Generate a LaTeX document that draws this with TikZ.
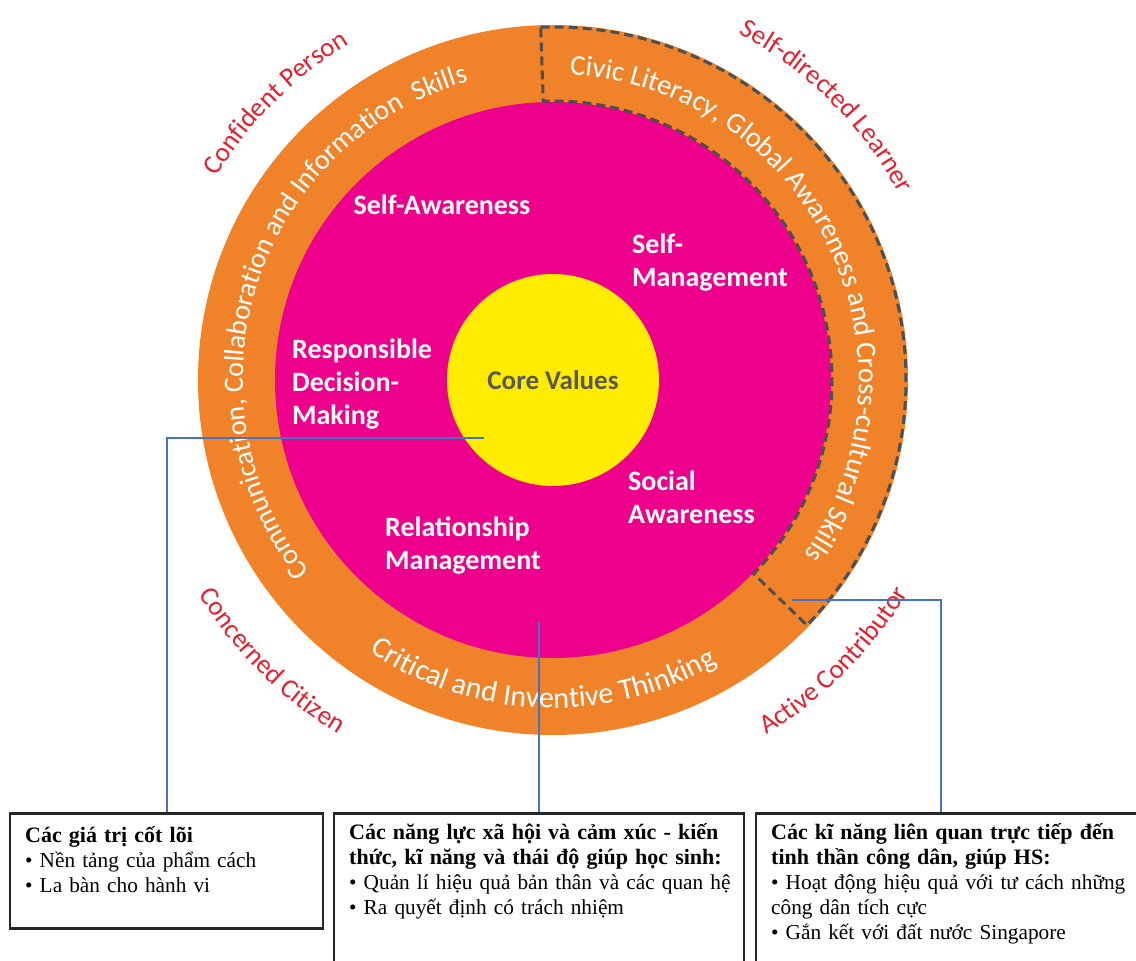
\documentclass[tikz,border=0pt]{standalone}
\usepackage{fontspec}
\setmainfont{Liberation Serif}
\newfontfamily\calib{Carlito}
\usetikzlibrary{calc,decorations.text}

\definecolor{ringorange}{HTML}{F0832A}
\definecolor{secmagenta}{HTML}{EC008C}
\definecolor{coreyellow}{HTML}{FFEC00}
\definecolor{outcomered}{HTML}{E5202E}
\definecolor{leadblue}{HTML}{4472C4}
\definecolor{dashgray}{HTML}{4F4F4F}
\definecolor{coregray}{HTML}{595959}

\newcommand\ringtext{\calib\fontsize{28}{30}\selectfont\color{white}}
\newcommand\outcome{\calib\fontsize{27}{30}\selectfont\color{outcomered}}
\newcommand\boxtitle[1]{{\bfseries\fontsize{22}{25}\selectfont #1}}

\begin{document}
\begin{tikzpicture}[x=1pt, y=1pt,
          disc/.style = {circle, inner sep=0pt},
          sec/.style = {text=white, font=\calib\bfseries\fontsize{28}{33}\selectfont, align=left, inner sep=0pt},
          lead/.style = {leadblue, line width=2pt},
          box/.style = {draw=black!85, line width=2.5pt, fill=white, inner sep=0pt, anchor=north west},
          boxtext/.style = {anchor=base west, inner sep=0pt, align=left, text width=430pt, font=\fontsize{21.3}{25}\selectfont}]
        \clip (-553,-581) rectangle (583,380);
        \node[disc, fill=ringorange, minimum size=710pt] (outerring) at (0,0) {};
        \node[disc, fill=secmagenta, minimum size=556pt] (secring) at (0,0) {};
        \node[disc, fill=coreyellow, minimum size=212pt, text=coregray,
              font=\calib\bfseries\fontsize{27}{30}\selectfont] (core) at (0,0) {Core Values};
        % 21st century competencies
        \draw[dashgray, line width=3pt, dash pattern=on 9pt off 5pt]
              (92:353) arc[start angle=92, end angle=-44, radius=353]
              -- (-44:279) arc[start angle=-44, end angle=92, radius=279] -- cycle;
        \path[decorate, decoration={text along path, text align=center,
              text={|\ringtext|Communication, Collaboration and Information {\ }Skills}}]
              (232:310) arc[start angle=232, end angle=92, radius=310];
        \path[decorate, decoration={text along path, text align=center,
              text={|\ringtext\fontsize{28.5}{30}\selectfont|Civic Literacy, Global Awareness and Cross-cultural Skills}}]
              (96:306) arc[start angle=96, end angle=-44, radius=306];
        \path[decorate, decoration={text along path, text align=center,
              text={|\ringtext\fontsize{30}{30}\selectfont|Critical and Inventive Thinking}}]
              (228:328) arc[start angle=228, end angle=308, radius=328];
        % outcomes
        \foreach \from/\to/\lab in {160/110/Confident Person, 70/20/Self-directed Learner}
                 {
                   \path[decorate, decoration={text along path, text align=center,
                         text/.expanded={|\noexpand\outcome|\lab}}]
                         (\from:393) arc[start angle=\from, end angle=\to, radius=393];
                 }
        \foreach \from/\to/\lab in {200/250/Concerned Citizen, -70/-20/Active Contributor}
                 {
                   \path[decorate, decoration={text along path, text align=center,
                         text/.expanded={|\noexpand\outcome|\lab}}]
                         (\from:414) arc[start angle=\from, end angle=\to, radius=414];
                 }
        % social and emotional competencies
        \node[sec] (selfaware) at (-111,175) {Self-Awareness};
        \node[sec, anchor=west] (selfmanage) at (79,117) {Self-\\Management};
        \node[sec, anchor=west] (decision) at (-261,-4) {Responsible\\Decision-\\Making};
        \node[sec, anchor=west] (socialaware) at (75,-117) {Social\\Awareness};
        \node[sec, anchor=west] (relation) at (-168,-166) {Relationship\\Management};
        % boxes
        \node[box, minimum width=313pt, minimum height=115pt] (valuesbox) at (-544,-432) {};
        \node[box, minimum width=410pt, minimum height=200pt] (secbox) at (-220,-432) {};
        \node[box, minimum width=420pt, minimum height=200pt] (civicbox) at (202,-432) {};
        \node[boxtext] (valuestext) at ($(valuesbox.north west)+(16,-30)$)
             {\boxtitle{Các giá trị cốt lõi}\\
              • Nền tảng của phẩm cách\\
              • La bàn cho hành vi};
        \node[boxtext] (sectext) at ($(secbox.north west)+(16,-27)$)
             {\boxtitle{\makebox[378pt][s]{Các năng lực xã hội và cảm xúc - kiến}}\\
              \boxtitle{thức, kĩ năng và thái độ giúp học sinh:}\\
              • Quản lí hiệu quả bản thân và các quan hệ\\
              • Ra quyết định có trách nhiệm};
        \node[boxtext] (civictext) at ($(civicbox.north west)+(16,-27)$)
             {\boxtitle{\makebox[362pt][s]{Các kĩ năng liên quan trực tiếp đến}}\\
              \boxtitle{tinh thần công dân, giúp HS:}\\
              • Hoạt động hiệu quả với tư cách những\\
              công dân tích cực\\
              • Gắn kết với đất nước Singapore};
        % leaders
        \coordinate (valuesend) at (-69,-58);
        \coordinate (secend) at (secbox.north |- 0,-242);
        \coordinate (civicend) at (239,-220);
        \coordinate (civictop) at ($(civicbox.north west)+(186,0)$);
        \draw[lead] (valuesend) -| (valuesbox.north);
        \draw[lead] (secend) -- (secbox.north);
        \draw[lead] (civicend) -| (civictop);
      \end{tikzpicture}
\end{document}
